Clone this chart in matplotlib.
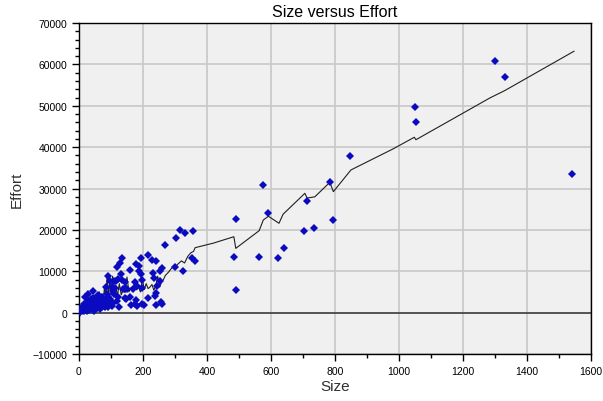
import numpy as np
import matplotlib.pyplot as plt
from matplotlib.ticker import MultipleLocator

# observed points (Size, Effort)
size_obs = [269, 304, 316, 331, 356, 300, 325, 352, 362, 483, 490, 490, 562, 574, 592,
            623, 640, 704, 712, 736, 784, 793, 846, 1049, 1052, 1300, 1331, 1541,
            133, 128, 120, 179, 186, 194, 215, 229, 240, 159, 188, 231, 254, 258, 131,
            110, 144, 175, 198, 235, 253, 194, 91, 116, 134, 151, 240, 256, 242, 216,
            203, 182, 163, 178, 143, 124, 90, 102, 107, 138, 170, 196, 147, 123, 97,
            180, 243, 144, 112, 83, 121, 159, 237, 175, 196, 258, 102, 81, 92, 64, 45,
            29, 19, 50,
            2, 4, 6, 8, 10, 12, 14, 15, 17, 18, 20, 22, 24, 25, 27, 28, 30, 31, 33, 35,
            36, 38, 40, 42, 43, 45, 47, 49, 51, 53, 55, 57, 59, 61, 63, 65, 67, 69, 71,
            73, 75, 77, 80, 84, 88, 94, 98, 105, 110, 118]
effort_obs = [16400, 18030, 20040, 19170, 19650, 10940, 9970, 13190, 12540, 13400, 22550,
              5450, 13400, 30900, 24150, 13200, 15700, 19800, 27060, 20500, 31650, 22300,
              37800, 49600, 46200, 60900, 57000, 33500,
              13190, 11900, 10940, 11810, 11180, 13190, 13900, 12780, 12540, 10290, 10120,
              9560, 9970, 10700, 9320, 7700, 7300, 7460, 7870, 8280, 7550, 9390, 8760,
              7620, 7790, 5690, 4650, 2470, 1815, 3510, 1890, 1570, 1740, 2950, 3510,
              1330, 1250, 6100, 5280, 5690, 5690, 5930, 3270, 8100, 7700, 6490, 6490,
              5850, 5850, 6100, 3680, 3680, 4070, 2060, 2060, 2060, 1650, 1250, 3680,
              4070, 5280, 4480, 3680, 2060,
              200, 500, 900, 300, 1200, 700, 1600, 400, 2100, 1000, 600, 1500, 2600, 300,
              1900, 1100, 2900, 700, 1600, 2300, 3300, 900, 1800, 2600, 1200, 3600, 500,
              2200, 1400, 3000, 1000, 2500, 4300, 1700, 3400, 800, 2100, 2900, 1300, 3800,
              2400, 1800, 3100, 2000, 4600, 2700, 3300, 2400, 4400, 2800]

# fitted curve
fit_x = [3, 8, 12, 16, 20, 24, 28, 32, 36, 40, 44, 48, 52, 56, 60, 64, 68, 72, 76, 80,
         84, 88, 92, 96, 100, 105, 110, 115, 120, 126, 132, 138, 144, 150, 156, 162, 168,
         174, 180, 186, 192, 198, 204, 210, 216, 222, 228, 234, 240, 246, 252, 258, 264,
         270, 280, 290, 300, 310, 320, 330, 340, 350, 358, 363, 420, 484, 490, 563, 576,
         592, 625, 638, 706, 713, 737, 784, 795, 850, 982, 1048, 1053, 1284, 1331, 1547]
fit_y = [-800, 500, -300, 1500, 800, 2200, 1200, 2800, 1500, 3500, 1800, 4200, 2500, 3600,
         2200, 5000, 2800, 4500, 3000, 6500, 3200, 9300, 3800, 7500, 4200, 8800, 4500,
         6500, 4000, 7000, 4300, 5500, 4800, 8600, 5000, 6000, 5200, 7800, 5500, 6200,
         5000, 8200, 5600, 7000, 5800, 6200, 6800, 5400, 6600, 8800, 6200, 7400, 8000,
         9000, 9800, 10800, 11000, 11800, 12500, 12000, 13600, 14500, 14800, 15700,
         16800, 18350, 15540, 19800, 22400, 23300, 21600, 23800, 28850, 27700, 28000,
         31500, 29250, 34500, 39600, 42400, 41800, 51900, 53700, 63200]

plt.rcParams['font.family'] = ['Liberation Sans', 'DejaVu Sans']

fig = plt.figure(figsize=(6.03, 4.02), dpi=100)
ax = fig.add_axes([0.131, 0.117, 0.849, 0.823])
ax.set_facecolor('#f0f0f0')

ax.grid(True, color='#c8c8c8', linewidth=1.2, zorder=0)
ax.set_axisbelow(True)
ax.axhline(0, color='#404040', linewidth=1.2, zorder=1)

ax.plot(fit_x, fit_y, color='#202020', linewidth=0.8, zorder=2)
ax.plot(size_obs, effort_obs, linestyle='none', marker='D', markersize=3.6,
        color='#0a0ac0', markeredgewidth=0, zorder=3)

ax.set_xlim(0, 1600)
ax.set_ylim(-10000, 70000)
ax.xaxis.set_major_locator(MultipleLocator(200))
ax.xaxis.set_minor_locator(MultipleLocator(100))
ax.yaxis.set_major_locator(MultipleLocator(10000))
ax.yaxis.set_minor_locator(MultipleLocator(2000))
ax.tick_params(which='major', length=5, width=1, labelsize=7.5, direction='out')
ax.tick_params(which='minor', length=3, width=1, direction='out')
for s in ax.spines.values():
    s.set_color('black')
    s.set_linewidth(1)

ax.set_title('Size versus Effort', fontsize=11.5, pad=5)
ax.set_xlabel('Size', fontsize=11, color='#303030', labelpad=2)
ax.set_ylabel('Effort', fontsize=11, color='#303030', labelpad=6)

plt.savefig('out.png', dpi=100)
